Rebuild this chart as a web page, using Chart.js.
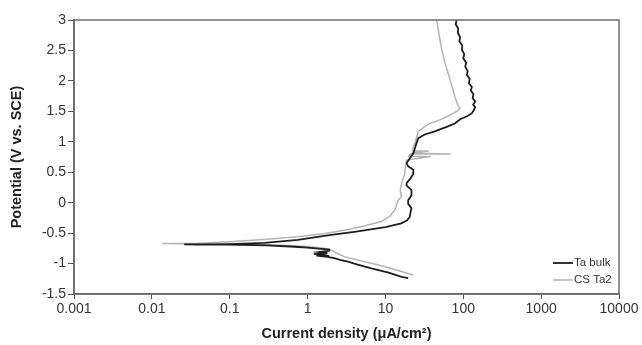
<!DOCTYPE html>
<html>
<head>
<meta charset="utf-8">
<script src="https://cdn.jsdelivr.net/npm/chart.js@4"></script>
<style>
  html, body { margin: 0; padding: 0; background: #fff; }
  #wrap { width: 642px; height: 345px; position: relative; }
</style>
</head>
<body>
<div id="wrap"><canvas id="polChart" width="642" height="345"></canvas></div>
<script>
// tick values
const xTicks = [0.001, 0.01, 0.1, 1, 10, 100, 1000, 10000];
const yMin = -1.5, yMax = 3, yStep = 0.5;

const seriesNames = ["Ta bulk", "CS Ta2"];

// Ta bulk: current density (uA/cm2) and potential (V vs SCE), cathodic end -> Ecorr -> anodic
const taBulkCurrent = [
  19.6, 16.1, 11, 6.6, 4.5, 3.3, 2.6, 2.2, 1.8, 1.3, 1.9, 1.5, 1.2, 1.8, 1.4, 1.9, 1.9, 1.5, 1.0, 0.6, 0.3, 0.1, 0.04, 0.026,
  0.05, 0.10, 0.28, 0.75, 2.0, 4, 6.5, 10, 16, 19, 20.6, 21, 21.6, 19.6, 19.6, 21.6, 21.6, 18.7, 18.7, 21, 22.8, 22.8, 19.5, 18.7, 20.6, 22.8, 23.9, 25, 26.4, 32, 43,
  60, 78, 91, 112, 129, 137, 142, 134, 142, 132, 135, 125, 129, 118, 121, 111, 114, 106, 109, 100, 103, 96, 97, 89, 91, 85, 86, 80, 82
];
const taBulkPotential = [
  -1.24, -1.22, -1.15, -1.08, -1.02, -0.97, -0.94, -0.91, -0.89, -0.87, -0.88, -0.85, -0.84, -0.83, -0.81, -0.79, -0.77, -0.76, -0.74, -0.72, -0.70, -0.69, -0.688, -0.685,
  -0.685, -0.68, -0.66, -0.61, -0.53, -0.48, -0.44, -0.40, -0.34, -0.29, -0.23, -0.16, -0.09, -0.02, 0.04, 0.12, 0.21, 0.28, 0.32, 0.40, 0.47, 0.54, 0.60, 0.65, 0.73, 0.81, 0.89, 0.97, 1.06, 1.12, 1.17,
  1.24, 1.30, 1.37, 1.42, 1.47, 1.52, 1.57, 1.61, 1.66, 1.72, 1.78, 1.84, 1.90, 1.96, 2.03, 2.10, 2.16, 2.23, 2.30, 2.37, 2.44, 2.51, 2.58, 2.65, 2.72, 2.79, 2.86, 2.93, 3.0
];

// CS Ta2
const csTa2Current = [
  22.8, 16.1, 11, 7.5, 5.4, 4, 3.0, 2.4, 2.0, 1.65, 1.0, 0.5, 0.2, 0.1, 0.04, 0.0136,
  0.04, 0.10, 0.3, 0.75, 1.6, 3.3, 5.5, 8.9, 11.5, 13.2, 14.6, 16.1, 15.5, 16.1, 17, 17.7, 18, 18.7, 38, 19.5, 20, 21.6, 70, 21.6, 36, 22, 22.5, 23.9, 25, 26.4,
  32, 37, 50, 63, 75, 85, 91, 85, 78, 72, 64, 58, 53, 49, 45.5
];
const csTa2Potential = [
  -1.19, -1.13, -1.07, -1.01, -0.97, -0.93, -0.89, -0.83, -0.78, -0.75, -0.72, -0.70, -0.69, -0.685, -0.68, -0.67,
  -0.665, -0.64, -0.60, -0.56, -0.51, -0.44, -0.38, -0.31, -0.22, -0.12, 0.04, 0.10, 0.20, 0.32, 0.40, 0.48, 0.58, 0.70, 0.76, 0.76, 0.78, 0.80, 0.80, 0.81, 0.85, 0.85, 0.90, 0.97, 1.07, 1.17,
  1.25, 1.30, 1.36, 1.42, 1.47, 1.51, 1.55, 1.60, 1.74, 1.90, 2.12, 2.30, 2.51, 2.75, 3.0
];

function toPoints(xs, ys) {
  return xs.map((x, i) => ({ x: x, y: ys[i] }));
}

const frameAndLegend = {
  id: "frameAndLegend",
  afterDatasetsDraw(chart) {
    const { ctx, chartArea } = chart;
    ctx.save();
    ctx.strokeStyle = "#6e6e6e";
    ctx.lineWidth = 1.5;
    ctx.strokeRect(chartArea.left, chartArea.top, chartArea.right - chartArea.left, chartArea.bottom - chartArea.top);

    // legend, bottom right inside the plot
    ctx.font = "11.5px 'Liberation Sans', Arial, sans-serif";
    ctx.textBaseline = "middle";
    ctx.fillStyle = "#333";
    chart.data.datasets.forEach((ds, i) => {
      const y = chartArea.bottom - 31 + i * 17;
      ctx.strokeStyle = ds.borderColor;
      ctx.lineWidth = ds.borderWidth;
      ctx.beginPath();
      ctx.moveTo(chartArea.right - 66, y);
      ctx.lineTo(chartArea.right - 46, y);
      ctx.stroke();
      ctx.fillText(ds.label, chartArea.right - 45, y);
    });
    ctx.restore();
  }
};

new Chart(document.getElementById("polChart").getContext("2d"), {
  type: "scatter",
  data: {
    datasets: [
      {
        label: seriesNames[0],
        data: toPoints(taBulkCurrent, taBulkPotential),
        showLine: true,
        borderColor: "#1e1e1e",
        borderWidth: 1.8,
        pointRadius: 0,
        tension: 0
      },
      {
        label: seriesNames[1],
        data: toPoints(csTa2Current, csTa2Potential),
        showLine: true,
        borderColor: "#b4b4b4",
        borderWidth: 1.5,
        pointRadius: 0,
        tension: 0
      }
    ]
  },
  options: {
    responsive: false,
    animation: false,
    layout: { padding: { top: 20, right: 23, left: 0, bottom: 0 } },
    plugins: {
      legend: { display: false },
      tooltip: { enabled: false }
    },
    scales: {
      x: {
        type: "logarithmic",
        min: 0.001,
        max: 10000,
        afterBuildTicks: s => { s.ticks = xTicks.map(v => ({ value: v })); },
        afterFit: s => { s.height = 51; },
        grid: { drawOnChartArea: false, drawTicks: true, tickLength: 5, color: "#555" },
        border: { color: "#555", width: 1.5 },
        ticks: {
          color: "#333",
          font: { family: "'Liberation Sans', Arial, sans-serif", size: 14 },
          padding: 2,
          maxRotation: 0,
          autoSkip: false,
          callback: v => String(v)
        },
        title: {
          display: true,
          text: "Current density (μA/cm²)",
          color: "#222",
          font: { family: "'Liberation Sans', Arial, sans-serif", size: 14.5, weight: "bold" },
          padding: { top: 0, bottom: 2 }
        }
      },
      y: {
        min: yMin,
        max: yMax,
        afterFit: s => { s.width = 74; },
        grid: { drawOnChartArea: false, drawTicks: true, tickLength: 6, color: "#555" },
        border: { color: "#555", width: 1.5 },
        ticks: {
          stepSize: yStep,
          color: "#333",
          font: { family: "'Liberation Sans', Arial, sans-serif", size: 14 },
          padding: 2,
          callback: v => String(v)
        },
        title: {
          display: true,
          text: "Potential (V vs. SCE)",
          color: "#222",
          font: { family: "'Liberation Sans', Arial, sans-serif", size: 14.5, weight: "bold" },
          padding: { top: 8, bottom: 0 }
        }
      }
    }
  },
  plugins: [frameAndLegend]
});
</script>
</body>
</html>
